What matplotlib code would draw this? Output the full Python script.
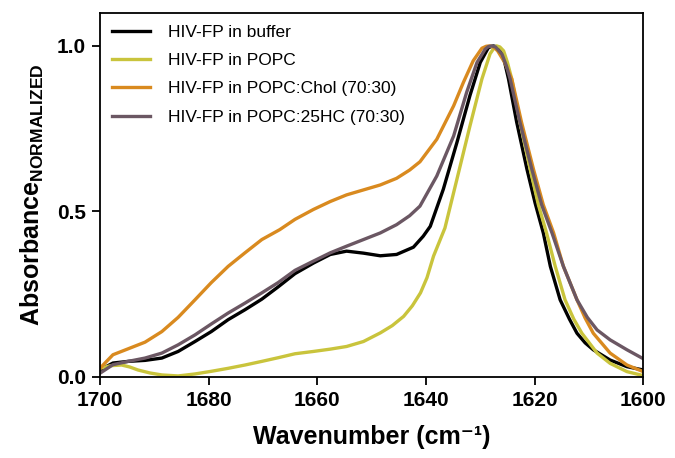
import numpy as np
import matplotlib.pyplot as plt

plt.rcParams["font.family"] = ["Liberation Sans", "DejaVu Sans"]
plt.rcParams["mathtext.fontset"] = "custom"
plt.rcParams["mathtext.rm"] = "Liberation Sans"
plt.rcParams["mathtext.bf"] = "Liberation Sans:bold"

# wavenumber (cm-1) / normalized absorbance
wn_buffer = [1700, 1697.6, 1694.8, 1691.7, 1688.6, 1685.6, 1682.5, 1679.5, 1676.4, 1673.3,
             1670.2, 1667.2, 1664.1, 1660.7, 1657.6, 1654.6, 1651.5, 1648.4, 1645.4, 1642.3,
             1640.5, 1639.2, 1636.8, 1634.3, 1631.9, 1630.0, 1628.5, 1627.6, 1626.9, 1626.3,
             1625.5, 1624.8, 1623.3, 1621.4, 1619.9, 1618.4, 1617.1, 1615.3, 1613.6, 1612.2,
             1610.7, 1609.2, 1606.1, 1603.0, 1600]
abs_buffer = [0.021, 0.042, 0.047, 0.050, 0.057, 0.077, 0.107, 0.137, 0.173, 0.203,
              0.235, 0.272, 0.312, 0.344, 0.370, 0.380, 0.374, 0.366, 0.370, 0.392,
              0.425, 0.455, 0.567, 0.708, 0.850, 0.950, 0.995, 1.0, 0.997, 0.985,
              0.950, 0.900, 0.770, 0.627, 0.525, 0.435, 0.334, 0.233, 0.175, 0.132,
              0.103, 0.082, 0.051, 0.031, 0.021]

wn_popc = [1700, 1698, 1696, 1694.5, 1693, 1690.8, 1688.6, 1685.6, 1682.5, 1679.5,
           1676.4, 1673.3, 1670.2, 1667.2, 1664.1, 1660.7, 1657.6, 1654.6, 1651.5, 1648.4,
           1646.2, 1644.1, 1642.5, 1641, 1639.8, 1638.6, 1636.5, 1634.3, 1631.9, 1629.7,
           1628.2, 1627.5, 1627.0, 1626.4, 1625.7, 1625.0, 1624.2, 1622.7, 1620.8, 1619.3,
           1617.8, 1616.2, 1614.4, 1612.8, 1611.3, 1608.5, 1606.1, 1603, 1600]
abs_popc = [0.026, 0.034, 0.036, 0.030, 0.021, 0.012, 0.006, 0.003, 0.009, 0.017,
            0.026, 0.036, 0.047, 0.058, 0.070, 0.077, 0.084, 0.092, 0.107, 0.133,
            0.155, 0.183, 0.215, 0.254, 0.300, 0.365, 0.450, 0.597, 0.758, 0.900,
            0.976, 0.993, 1.0, 0.997, 0.985, 0.950, 0.900, 0.769, 0.627, 0.520,
            0.435, 0.334, 0.233, 0.175, 0.132, 0.072, 0.041, 0.016, 0.004]

wn_chol = [1700, 1697.6, 1694.8, 1691.7, 1688.6, 1685.6, 1682.5, 1679.5, 1676.4, 1673.3,
           1670.2, 1666.9, 1664.1, 1660.7, 1657.6, 1654.6, 1651.5, 1648.4, 1645.4, 1643,
           1641.1, 1638.0, 1634.9, 1633.1, 1631.3, 1629.7, 1628.9, 1628.2, 1627.5, 1626.8,
           1625.5, 1624.2, 1622.4, 1620.2, 1618.4, 1616.5, 1614.7, 1612.2, 1610.7, 1609.2,
           1606.1, 1603, 1600]
abs_chol = [0.026, 0.067, 0.085, 0.105, 0.137, 0.180, 0.233, 0.285, 0.334, 0.375,
            0.415, 0.445, 0.476, 0.506, 0.530, 0.550, 0.565, 0.580, 0.600, 0.625,
            0.650, 0.718, 0.819, 0.890, 0.955, 0.993, 0.999, 1.0, 0.996, 0.985,
            0.950, 0.900, 0.769, 0.627, 0.520, 0.435, 0.334, 0.233, 0.178, 0.132,
            0.072, 0.036, 0.016]

wn_25hc = [1700, 1697.6, 1694.8, 1691.7, 1688.6, 1685.6, 1682.5, 1679.5, 1676.4, 1673.3,
           1670.2, 1667.2, 1664.1, 1660.7, 1657.6, 1654.6, 1651.5, 1648.4, 1645.4, 1643,
           1641.1, 1638.0, 1634.9, 1632.5, 1630.6, 1629.1, 1628.5, 1627.9, 1627.2, 1626.0,
           1625.2, 1624.5, 1622.7, 1620.5, 1618.7, 1616.8, 1614.7, 1612.2, 1610.3, 1608.5,
           1606.1, 1603, 1600]
abs_25hc = [0.011, 0.037, 0.047, 0.057, 0.072, 0.097, 0.127, 0.160, 0.193, 0.223,
            0.254, 0.285, 0.322, 0.350, 0.375, 0.395, 0.415, 0.435, 0.460, 0.487,
            0.516, 0.607, 0.728, 0.860, 0.950, 0.990, 0.998, 1.0, 0.997, 0.975,
            0.940, 0.900, 0.769, 0.627, 0.520, 0.435, 0.334, 0.233, 0.180, 0.142,
            0.112, 0.082, 0.055]

labels = ["HIV-FP in buffer", "HIV-FP in POPC",
          "HIV-FP in POPC:Chol (70:30)", "HIV-FP in POPC:25HC (70:30)"]
colors = ["#000000", "#c9c43c", "#d98a1f", "#6b5763"]

fig = plt.figure(figsize=(6.75, 4.58), dpi=100)
ax = fig.add_axes([0.148, 0.177, 0.805, 0.795])

series = [(wn_buffer, abs_buffer), (wn_popc, abs_popc),
          (wn_chol, abs_chol), (wn_25hc, abs_25hc)]
for (x, y), lab, c in zip(series, labels, colors):
    ax.plot(x, y, color=c, lw=2.4, label=lab, solid_joinstyle="round")

ax.set_xlim(1700, 1600)
ax.set_ylim(0, 1.1)
ax.set_xticks([1700, 1680, 1660, 1640, 1620, 1600])
ax.set_yticks([0.0, 0.5, 1.0])
ax.set_yticklabels(["0.0", "0.5", "1.0"])
ax.tick_params(direction="out", length=6, width=1.3, labelsize=15, pad=4)
for t in ax.get_xticklabels() + ax.get_yticklabels():
    t.set_fontweight("bold")
    t.set_family(["Liberation Sans Narrow", "Liberation Sans", "DejaVu Sans"])
for s in ax.spines.values():
    s.set_linewidth(1.3)

ax.set_xlabel("Wavenumber (cm\u207b\u00b9)", fontsize=18, fontweight="bold",
              labelpad=11)
ax.set_ylabel(r"Absorbance$_{\mathbf{NORMALIZED}}$", fontsize=18, fontweight="bold",
              labelpad=8)

ax.legend(loc="upper left", frameon=False, fontsize=12.5, handlelength=2.2,
          handletextpad=1.0, labelspacing=0.75, borderaxespad=0.3)

fig.savefig("out.png", dpi=100)
